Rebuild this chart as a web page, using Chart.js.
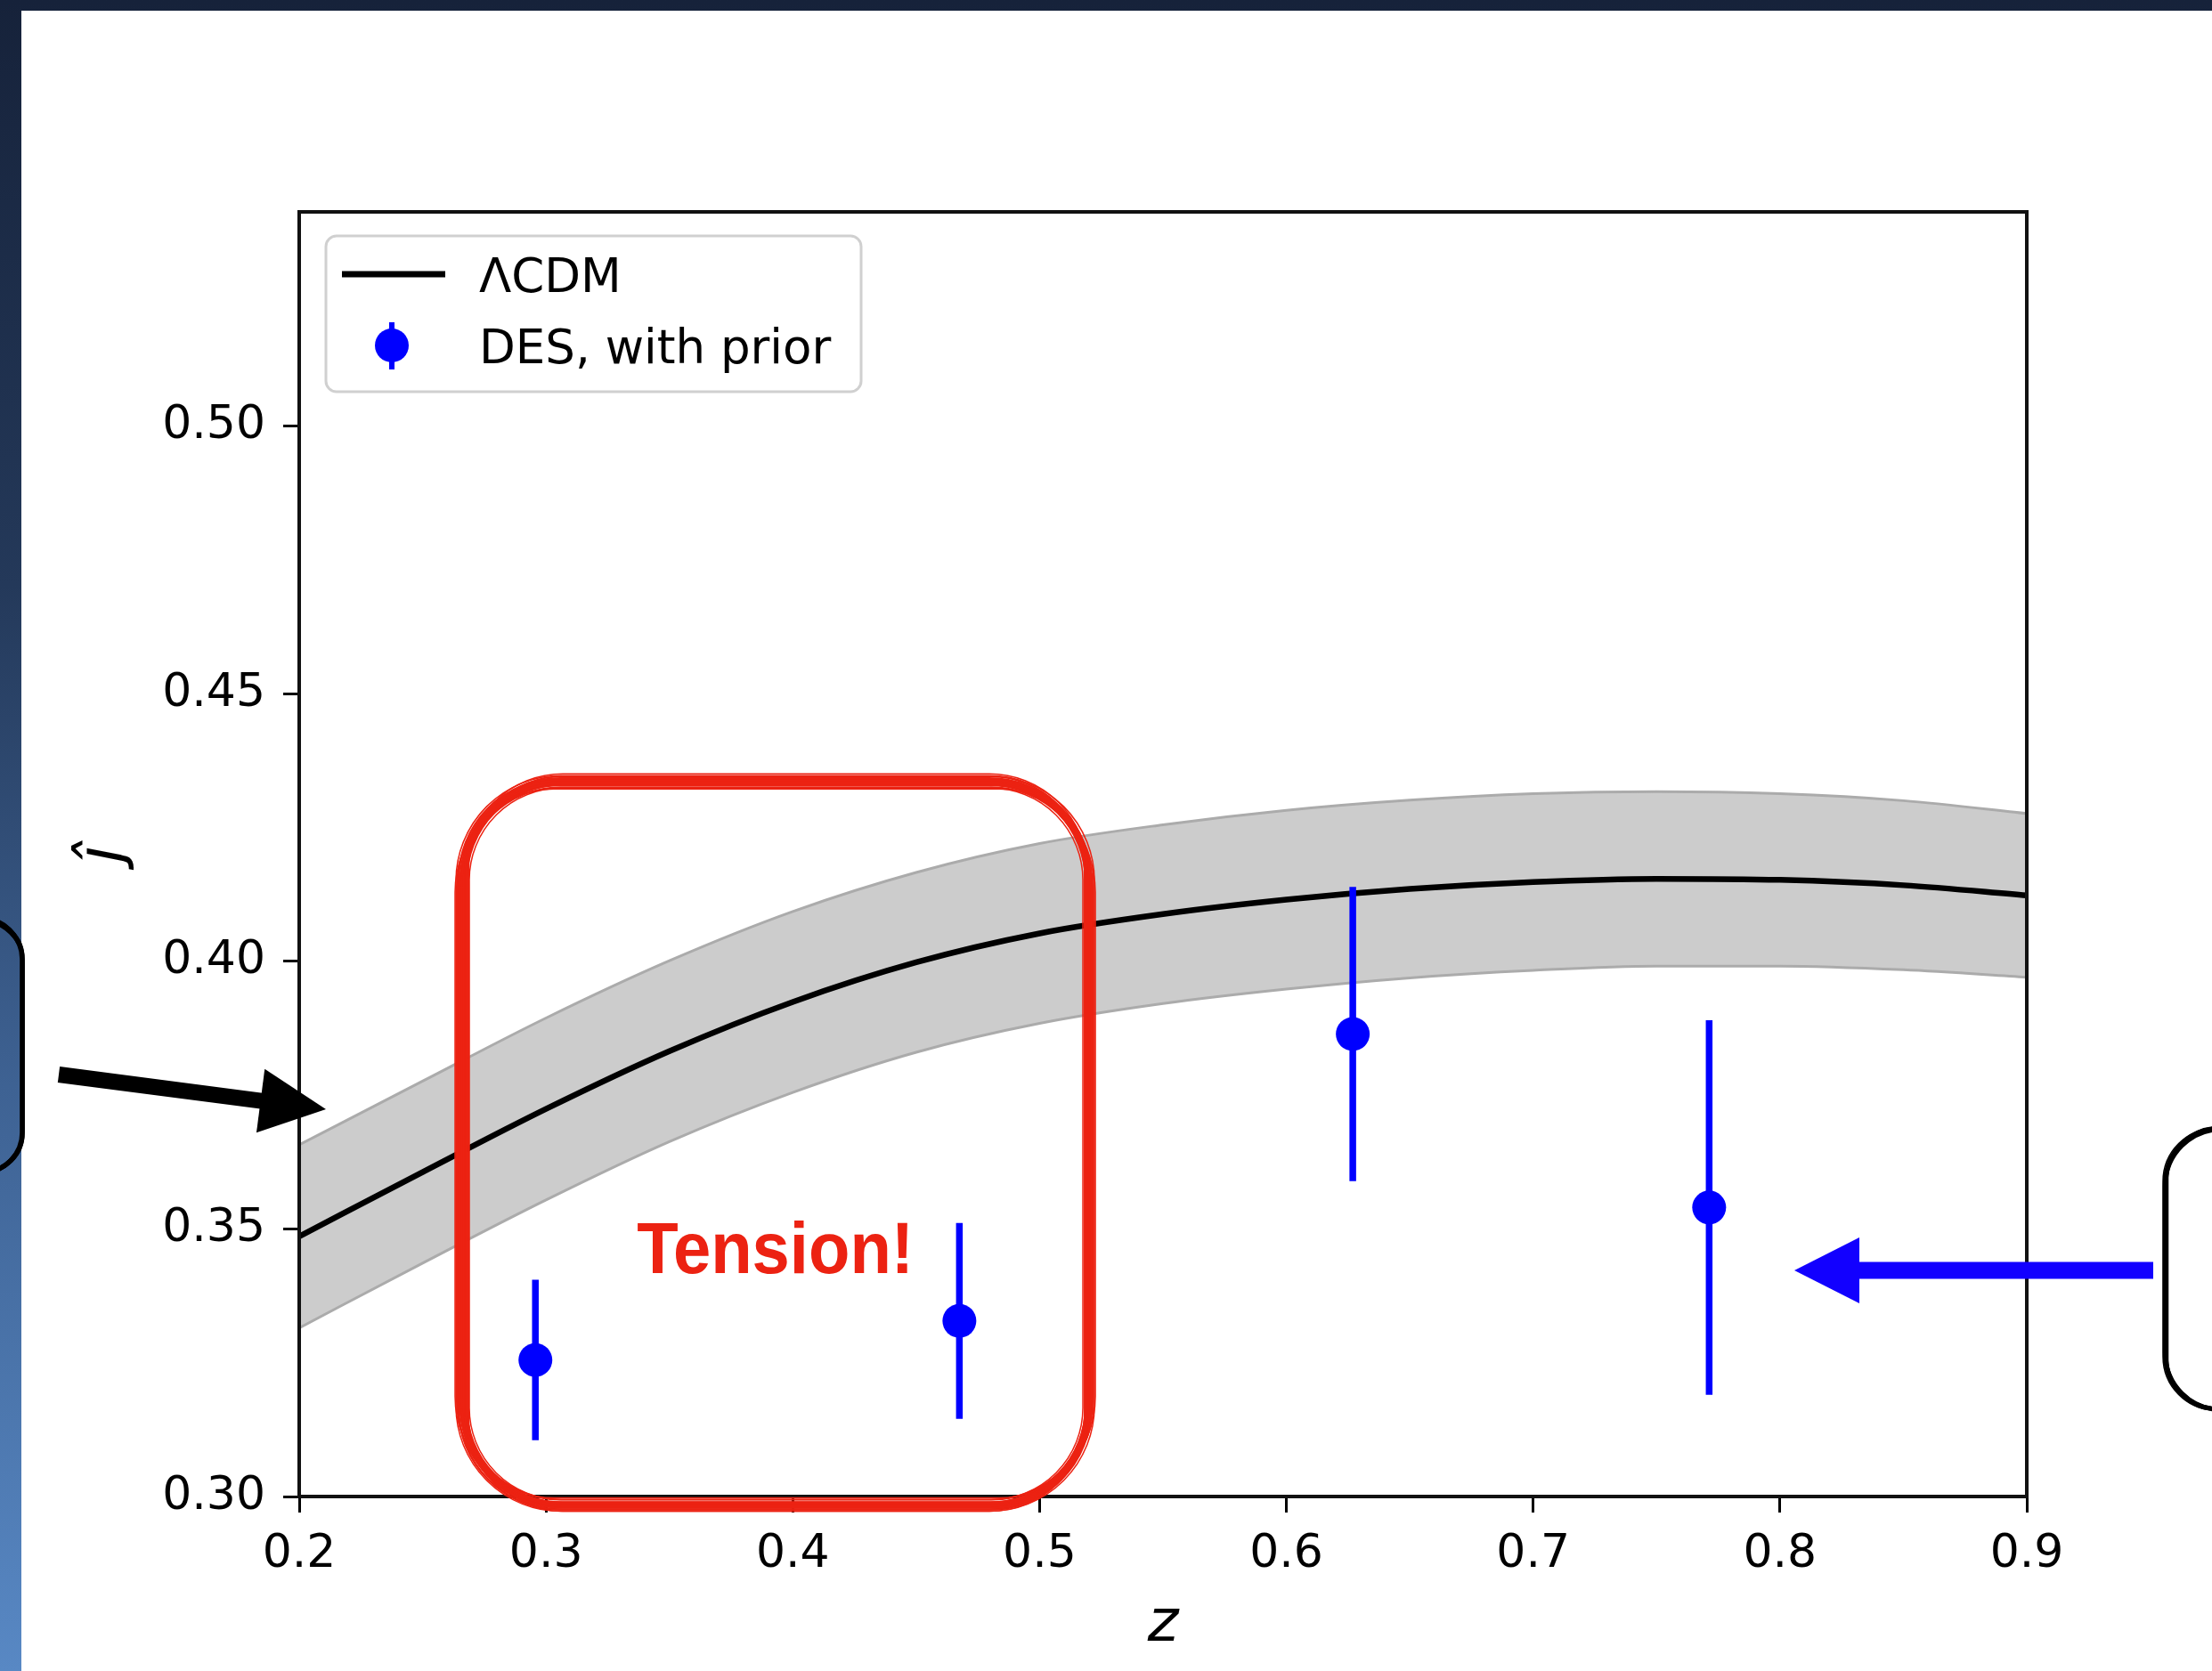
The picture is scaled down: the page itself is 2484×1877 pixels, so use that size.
<!DOCTYPE html>
<html>
<head>
<meta charset="utf-8">
<title>j-hat vs z</title>
<script src="https://cdn.jsdelivr.net/npm/chart.js@4.4.1/dist/chart.umd.min.js"></script>
<style>
  html, body { margin: 0; padding: 0; }
  body {
    width: 2484px; height: 1877px; overflow: hidden;
    background: linear-gradient(to bottom, #16223a 0%, #24395a 35%, #3e6293 65%, #5888c4 100%);
  }
  #chart { position: absolute; left: 0; top: 0; }
</style>
</head>
<body>
<canvas id="chart" width="2484" height="1877"></canvas>
<script>
// axis ticks
const zTicks = [0.2, 0.3, 0.4, 0.5, 0.6, 0.7, 0.8, 0.9];
const jTicks = [0.30, 0.35, 0.40, 0.45, 0.50];

// LCDM prediction and its band
const zModel = [0.20, 0.25, 0.30, 0.35, 0.40, 0.45, 0.50, 0.55, 0.60, 0.65, 0.70, 0.75, 0.80, 0.85, 0.90];
const jModel = [0.3486, 0.3606, 0.3724, 0.3832, 0.3924, 0.3998, 0.4052, 0.4088, 0.4115, 0.4135, 0.4148, 0.4154, 0.4152, 0.4142, 0.4123];
const jUpper = [0.3657, 0.3776, 0.3894, 0.4001, 0.4093, 0.4166, 0.4220, 0.4255, 0.4282, 0.4301, 0.4313, 0.4317, 0.4313, 0.4300, 0.4276];
const jLower = [0.3315, 0.3436, 0.3554, 0.3663, 0.3755, 0.3830, 0.3884, 0.3921, 0.3948, 0.3969, 0.3983, 0.3991, 0.3991, 0.3984, 0.3970];

// DES measurements
const zDES = [0.2957, 0.4675, 0.6269, 0.7713];
const jDES = [0.3255, 0.3328, 0.3864, 0.3540];
const jErrDES = [0.0150, 0.0183, 0.0275, 0.0350];

const BLUE = "#0000ff";
const RED = "#ec2212";
const FONT = "'DejaVu Sans', 'Noto Sans', sans-serif";

const pts = (xs, ys) => xs.map((x, i) => ({ x, y: ys[i] }));

function roundRectPath(ctx, x, y, w, h, r) {
  ctx.beginPath();
  ctx.moveTo(x + r, y);
  ctx.arcTo(x + w, y, x + w, y + h, r);
  ctx.arcTo(x + w, y + h, x, y + h, r);
  ctx.arcTo(x, y + h, x, y, r);
  ctx.arcTo(x, y, x + w, y, r);
  ctx.closePath();
}

// a few overlapping strokes to look hand drawn
function sketchRect(ctx, x, y, w, h, r, color, passes) {
  ctx.save();
  ctx.strokeStyle = color;
  ctx.lineJoin = "round";
  passes.forEach(([dx, dy, dw, dh, lw, dr]) => {
    ctx.lineWidth = lw;
    roundRectPath(ctx, x + dx, y + dy, w + dw, h + dh, r + (dr || 0));
    ctx.stroke();
  });
  ctx.restore();
}

function arrow(ctx, x0, y0, x1, y1, shaft, headLen, headHalf, color) {
  const a = Math.atan2(y1 - y0, x1 - x0);
  const len = Math.hypot(x1 - x0, y1 - y0);
  ctx.save();
  ctx.translate(x0, y0);
  ctx.rotate(a);
  ctx.fillStyle = color;
  ctx.fillRect(0, -shaft / 2, len - headLen + 1, shaft);
  ctx.beginPath();
  ctx.moveTo(len, 0);
  ctx.lineTo(len - headLen, -headHalf);
  ctx.lineTo(len - headLen, headHalf);
  ctx.closePath();
  ctx.fill();
  ctx.restore();
}

const pagePlugin = {
  id: "page",
  beforeDraw(chart) {
    const ctx = chart.ctx;
    ctx.save();
    ctx.fillStyle = "#ffffff";
    ctx.fillRect(24, 12, chart.width - 24, chart.height - 12);
    ctx.restore();
  },
};

const errorBarPlugin = {
  id: "errorBars",
  beforeDatasetDraw(chart, args) {
    if (args.index !== 0) return;
    const { ctx, scales } = chart;
    ctx.save();
    ctx.strokeStyle = BLUE;
    ctx.lineWidth = 7.5;
    zDES.forEach((z, i) => {
      const x = scales.x.getPixelForValue(z);
      ctx.beginPath();
      ctx.moveTo(x, scales.y.getPixelForValue(jDES[i] + jErrDES[i]));
      ctx.lineTo(x, scales.y.getPixelForValue(jDES[i] - jErrDES[i]));
      ctx.stroke();
    });
    ctx.restore();
  },
};

const framePlugin = {
  id: "frame",
  afterDatasetsDraw(chart) {
    const { ctx, chartArea: a } = chart;
    ctx.save();
    ctx.strokeStyle = "#111";
    ctx.lineWidth = 4;
    ctx.strokeRect(a.left, a.top, a.right - a.left, a.bottom - a.top);
    ctx.restore();
  },
};

const legendPlugin = {
  id: "mplLegend",
  afterDraw(chart) {
    const { ctx, chartArea: a } = chart;
    const ds = chart.data.datasets;
    const x = a.left + 30, y = a.top + 27;
    ctx.save();
    ctx.fillStyle = "rgba(255,255,255,0.85)";
    ctx.strokeStyle = "#d0d0d0";
    ctx.lineWidth = 3;
    roundRectPath(ctx, x, y, 601, 175, 12);
    ctx.fill();
    ctx.stroke();

    ctx.strokeStyle = "#000";
    ctx.lineWidth = 7;
    ctx.beginPath();
    ctx.moveTo(x + 18, y + 43);
    ctx.lineTo(x + 134, y + 43);
    ctx.stroke();

    ctx.strokeStyle = BLUE;
    ctx.lineWidth = 6;
    ctx.beginPath();
    ctx.moveTo(x + 74, y + 97);
    ctx.lineTo(x + 74, y + 150);
    ctx.stroke();
    ctx.fillStyle = BLUE;
    ctx.beginPath();
    ctx.arc(x + 74, y + 123, 19, 0, Math.PI * 2);
    ctx.fill();

    ctx.fillStyle = "#000";
    ctx.font = "53px " + FONT;
    ctx.textBaseline = "alphabetic";
    ctx.fillText(ds[1].label, x + 172, y + 63);
    ctx.fillText(ds[0].label, x + 172, y + 143);
    ctx.restore();
  },
};

const redPasses = [
  [0, 0, 0, 0, 8], [-5, -4, 8, 9, 2.5, 4], [4, 3, -7, -6, 2.5, -3], [-7, 2, 12, -3, 2, 6],
  [6, -6, -10, 11, 2, -5], [-2, 6, 5, -12, 2, 2], [3, -2, -4, 5, 2, -2], [-8, -7, 15, 14, 1.5, 8],
  [7, 7, -13, -13, 1.5, -7], [-9, 4, 17, -6, 1.5, 10], [2, -9, -3, 16, 1.5, 0], [-4, 8, 10, -16, 1.5, -4],
];
const blackPasses = [
  [0, 0, 0, 0, 5.5], [-2, 1, 3, -2, 2.5, 3], [2, -2, -3, 3, 2.5, -3], [1, 2, -1, -3, 2, 2], [-3, -1, 5, 2, 1.5, 0],
];

const annotationPlugin = {
  id: "annotations",
  afterDraw(chart) {
    const { ctx, scales } = chart;
    const px = (z) => scales.x.getPixelForValue(z);
    const py = (j) => scales.y.getPixelForValue(j);

    // red tension box
    const bx0 = px(0.2664), bx1 = px(0.5197), by0 = py(0.4335), by1 = py(0.2984);
    sketchRect(ctx, bx0, by0, bx1 - bx0, by1 - by0, 110, RED, redPasses);

    ctx.save();
    ctx.fillStyle = RED;
    ctx.font = "bold 81px 'Liberation Sans', Arial, sans-serif";
    ctx.textBaseline = "alphabetic";
    ctx.fillText("Tension!", px(0.3368), py(0.3418), 311);
    ctx.restore();

    arrow(ctx, 66, 1207, 366, 1246, 18, 74, 36, "#000");
    arrow(ctx, 2418, 1427, 2015, 1427, 19, 73, 37, "#1200ff");

    sketchRect(ctx, -260, 1033, 285, 284, 45, "#000", blackPasses);
    sketchRect(ctx, 2432, 1268, 400, 315, 60, "#000", blackPasses);
  },
};

const tickFont = { family: FONT, size: 52 };

new Chart(document.getElementById("chart"), {
  type: "line",
  data: {
    datasets: [
      {
        label: "DES, with prior",
        data: pts(zDES, jDES),
        showLine: false,
        pointRadius: 19,
        pointBackgroundColor: BLUE,
        pointBorderWidth: 0,
      },
      {
        label: "ΛCDM",
        data: pts(zModel, jModel),
        borderColor: "#000",
        borderWidth: 6.5,
        pointRadius: 0,
        cubicInterpolationMode: "monotone",
        fill: false,
      },
      {
        label: "upper",
        data: pts(zModel, jUpper),
        borderColor: "#ababab",
        borderWidth: 3,
        pointRadius: 0,
        cubicInterpolationMode: "monotone",
        fill: false,
      },
      {
        label: "lower",
        data: pts(zModel, jLower),
        borderColor: "#ababab",
        borderWidth: 3,
        pointRadius: 0,
        cubicInterpolationMode: "monotone",
        fill: "-1",
        backgroundColor: "#cccccc",
      },
    ],
  },
  options: {
    responsive: false,
    animation: false,
    layout: { padding: { left: 0, top: 238, right: 208, bottom: 0 } },
    plugins: {
      legend: { display: false },
      tooltip: { enabled: false },
    },
    scales: {
      x: {
        type: "linear",
        min: 0.2,
        max: 0.9,
        afterBuildTicks: (s) => { s.ticks = zTicks.map((v) => ({ value: v })); },
        afterFit: (s) => { s.height = 196; },
        ticks: { callback: (v) => v.toFixed(1), font: tickFont, color: "#000", padding: 16, maxRotation: 0, autoSkip: false },
        grid: { drawOnChartArea: false, drawTicks: true, tickLength: 18, tickWidth: 3, tickColor: "#000" },
        border: { display: true, color: "#111", width: 4 },
        title: { display: true, text: "z", color: "#000", font: { family: FONT, style: "italic", size: 66 }, padding: { top: 0, bottom: 12 } },
      },
      y: {
        type: "linear",
        min: 0.30,
        max: 0.54,
        afterBuildTicks: (s) => { s.ticks = jTicks.map((v) => ({ value: v })); },
        afterFit: (s) => { s.width = 336; },
        ticks: { callback: (v) => v.toFixed(2), font: tickFont, color: "#000", padding: 20, autoSkip: false },
        grid: { drawOnChartArea: false, drawTicks: true, tickLength: 18, tickWidth: 3, tickColor: "#000" },
        border: { display: true, color: "#111", width: 4 },
        title: { display: true, text: "ĵ", color: "#000", font: { family: FONT, style: "italic", size: 70 }, padding: { top: 76, bottom: 0 } },
      },
    },
  },
  plugins: [pagePlugin, errorBarPlugin, framePlugin, legendPlugin, annotationPlugin],
});
</script>
</body>
</html>
